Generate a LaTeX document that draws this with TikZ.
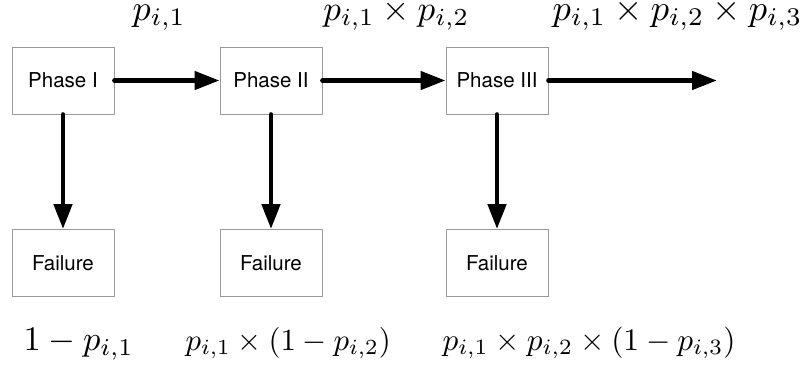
\documentclass[tikz,border=0pt]{standalone}
\usepackage{fontspec}
\newfontfamily\boxfont{TeX Gyre Heros}
\usetikzlibrary{arrows.meta}
\tikzset{
  stagebox/.style={draw=black!40, line width=0.9pt, minimum width=102pt, minimum height=67pt, inner sep=0pt, font=\boxfont\fontsize{20.5}{24}\selectfont},
  flow/.style={line width=4.6pt, line cap=round, -{Triangle[length=25pt,width=18pt]}},
  toplab/.style={anchor=base west, inner sep=0pt},
  botlab/.style={anchor=base west, inner sep=0pt}
}
\begin{document}
\begin{tikzpicture}[x=1pt,y=-1pt]
\useasboundingbox (0,0) rectangle (806,368);
\node[stagebox] (p1) at (63,80.5) {Phase I};
\node[stagebox] (p2) at (271,80.5) {Phase II};
\node[stagebox] (p3) at (497,80.5) {Phase III};
\node[stagebox] (f1) at (63,263) {Failure};
\node[stagebox] (f2) at (271,263) {Failure};
\node[stagebox] (f3) at (497,263) {Failure};
\coordinate (out) at (717,80.5);
\draw[flow] (p1.east) -- (p2.west);
\draw[flow] (p2.east) -- (p3.west);
\draw[flow] (p3.east) -- (out);
\draw[flow] (p1.south) -- (f1.north);
\draw[flow] (p2.south) -- (f2.north);
\draw[flow] (p3.south) -- (f3.north);
\node[toplab, scale=3.6] (t1) at (132,20.5) {$p_{i,1}$};
\node[toplab, scale=3.5] (t2) at (322.7,20.5) {$p_{i,1}\times p_{i,2}$};
\node[toplab, scale=3.64] (t3) at (552,20.5) {$p_{i,1}\times p_{i,2}\times p_{i,3}$};
\node[botlab, scale=3.45] (b1) at (23,350) {$1-p_{i,1}$};
\node[botlab, scale=3.08] (b2) at (185,350) {$p_{i,1}\times(1-p_{i,2})$};
\node[botlab, scale=3.13] (b3) at (442,350) {$p_{i,1}\times p_{i,2}\times(1-p_{i,3})$};
\end{tikzpicture}
\end{document}
